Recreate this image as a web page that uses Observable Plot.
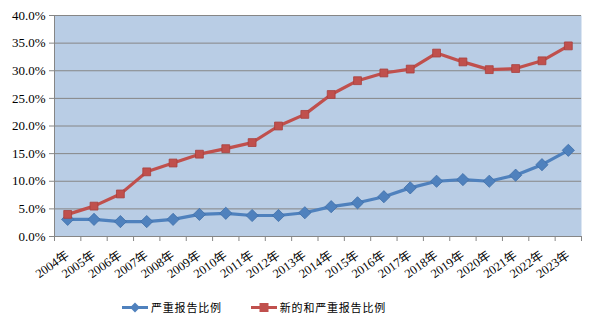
<!DOCTYPE html>
<html>
<head>
<meta charset="utf-8">
<script src="https://cdn.jsdelivr.net/npm/d3@7"></script>
<script src="https://cdn.jsdelivr.net/npm/@observablehq/plot@0.6"></script>
<style>
  body { margin: 0; background: white; }
  #chart svg { display: block; }
  #legend { height: 34px; display: flex; justify-content: flex-start; align-items: center; gap: 29px;
    font-family: "Noto Sans CJK SC", sans-serif; font-size: 11px; color: #000; padding-left: 122px; box-sizing: border-box; }
  .item { display: flex; align-items: center; gap: 3px; letter-spacing: 0.8px; }
</style>
</head>
<body>
<div id="chart"></div>
<div id="legend"></div>
<script>
const years = ["2004年","2005年","2006年","2007年","2008年","2009年","2010年","2011年","2012年","2013年","2014年","2015年","2016年","2017年","2018年","2019年","2020年","2021年","2022年","2023年"];
const serious = [3.1,3.1,2.7,2.7,3.1,4.0,4.2,3.8,3.8,4.3,5.4,6.1,7.2,8.8,10.0,10.3,10.0,11.1,13.0,15.6];
const newSerious = [4.0,5.5,7.7,11.7,13.3,14.9,15.9,17.0,20.0,22.1,25.7,28.2,29.6,30.3,33.2,31.6,30.2,30.4,31.8,34.5];
const yTicks = [0,5,10,15,20,25,30,35,40];
const seriesNames = ["严重报告比例","新的和严重报告比例"];
const colors = ["#4F81BD","#C0504D"];

const data = years.map((y, i) => ({i: i + 0.5, year: y, serious: serious[i], newSerious: newSerious[i]}));
const grid = "#868686";

const chart = Plot.plot({
  width: 593, height: 290,
  marginLeft: 54, marginRight: 12, marginTop: 15, marginBottom: 54,
  x: {domain: [0, years.length], axis: null, label: null},
  y: {domain: [0, 40], axis: null, label: null},
  style: {fontFamily: '"Liberation Serif", "Noto Sans CJK SC", serif', fontSize: "13px", background: "white", color: "black"},
  marks: [
    Plot.frame({fill: "#B9CDE5", stroke: "none"}),
    Plot.gridY(yTicks, {stroke: grid, strokeOpacity: 1}),
    Plot.ruleX([0], {stroke: grid}),
    Plot.ruleY([0], {stroke: grid}),
    Plot.axisY(yTicks, {tickSize: 5, tickPadding: 4, stroke: grid, tickFormat: d => d.toFixed(1) + "%", fill: "black", label: null}),
    Plot.axisX(d3.range(years.length + 1), {tickSize: 5, stroke: grid, tickFormat: () => "", label: null}),
    Plot.axisX(data.map(d => d.i), {tickSize: 0, tickFormat: v => years[Math.floor(v)], tickRotate: -35, textAnchor: "end", fontSize: 12.5, dx: 0, dy: 5, fill: "black", label: null}),
    Plot.line(data, {x: "i", y: "serious", stroke: colors[0], strokeWidth: 3.2}),
    Plot.dot(data, {x: "i", y: "serious", symbol: "diamond2", r: 5.5, fill: colors[0], stroke: "#3f6fa8", strokeWidth: 0.8}),
    Plot.line(data, {x: "i", y: "newSerious", stroke: colors[1], strokeWidth: 3.2}),
    Plot.dot(data, {x: "i", y: "newSerious", symbol: "square2", r: 5, fill: colors[1], stroke: "#a8403d", strokeWidth: 0.8})
  ]
});
document.getElementById("chart").appendChild(chart);

const legend = document.getElementById("legend");
seriesNames.forEach((name, k) => {
  const item = document.createElement("div");
  item.className = "item";
  const marker = k === 0
    ? `<path d="M13,1.5 L18,6.5 L13,11.5 L8,6.5 Z" fill="${colors[k]}"/>`
    : `<rect x="8.5" y="2" width="9" height="9" fill="${colors[k]}"/>`;
  item.innerHTML = `<svg width="26" height="13"><line x1="0" x2="26" y1="6.5" y2="6.5" stroke="${colors[k]}" stroke-width="3"/>${marker}</svg><span>${name}</span>`;
  legend.appendChild(item);
});
</script>
</body>
</html>
